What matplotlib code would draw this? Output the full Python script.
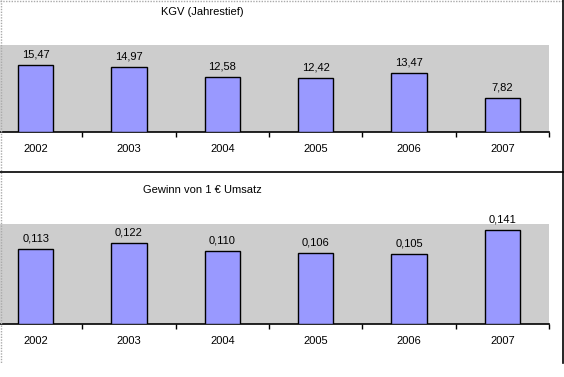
import matplotlib
matplotlib.use("Agg")
import matplotlib.pyplot as plt
from matplotlib.lines import Line2D
from matplotlib.patches import Rectangle
import numpy as np

years = ["2002", "2003", "2004", "2005", "2006", "2007"]
kgv = [15.47, 14.97, 12.58, 12.42, 13.47, 7.82]
gewinn = [0.113, 0.122, 0.110, 0.106, 0.105, 0.141]
kgv_labels = ["15,47", "14,97", "12,58", "12,42", "13,47", "7,82"]
gewinn_labels = ["0,113", "0,122", "0,110", "0,106", "0,105", "0,141"]

plt.rcParams["font.family"] = ["Liberation Sans", "DejaVu Sans"]
plt.rcParams["hatch.color"] = "#9a9a9a"
plt.rcParams["hatch.linewidth"] = 0.5

W, H = 564, 377
fig = plt.figure(figsize=(W / 100, H / 100), dpi=100)


def px_axes(left, top, right, bottom):
    return fig.add_axes([left / W, 1 - bottom / H, (right - left) / W, (bottom - top) / H])


def draw_panel(ax, values, labels, ymax):
    x = np.arange(len(values))
    # dotted gray plot area like the Excel fill
    ax.add_patch(Rectangle((0, 0), 1, 1, transform=ax.transAxes, facecolor="#cdcdcd",
                           hatch="......", edgecolor="none", zorder=0))
    ax.bar(x, values, width=0.38, color="#9999ff", edgecolor="black", linewidth=1, zorder=3)
    for xi, v, lab in zip(x, values, labels):
        ax.annotate(lab, (xi, v), xytext=(0, 4), textcoords="offset points",
                    ha="center", va="bottom", fontsize=8, zorder=4, annotation_clip=False)
    ax.set_xlim(-0.5, len(values) - 0.5)
    ax.set_ylim(0, ymax)
    ax.set_yticks([])
    ax.set_xticks(x)
    ax.set_xticklabels(years, fontsize=8)
    ax.tick_params(axis="x", which="major", length=0, pad=9)
    ax.set_xticks(np.arange(len(values)) + 0.5, minor=True)
    ax.tick_params(axis="x", which="minor", length=3.5, width=1, direction="out", color="black")
    for s in ["top", "left", "right"]:
        ax.spines[s].set_visible(False)
    ax.spines["bottom"].set_linewidth(1.2)


ax1 = px_axes(-11, 45, 549, 132)
draw_panel(ax1, kgv, kgv_labels, 20)
ax2 = px_axes(-11, 224, 549, 324)
draw_panel(ax2, gewinn, gewinn_labels, 0.15)

fig.text(202 / W, 1 - 12 / H, "KGV (Jahrestief)", ha="center", va="center", fontsize=8)
fig.text(202 / W, 1 - 190 / H, "Gewinn von 1 € Umsatz", ha="center", va="center", fontsize=8)

# frame lines
def px_line(xs, ys, **kw):
    fig.add_artist(Line2D([v / W for v in xs], [1 - v / H for v in ys], transform=fig.transFigure, **kw))

px_line([0.5, 0.5], [0, 363], color="#aaaaaa", linestyle=(0, (1, 1)), linewidth=1)
px_line([0, 563], [0.5, 0.5], color="#aaaaaa", linestyle=(0, (1, 1)), linewidth=1)
px_line([0, 563], [172, 172], color="black", linewidth=1.2)
px_line([562.5, 562.5], [0, 363], color="black", linewidth=1.2)

fig.savefig("out.png", dpi=100)
